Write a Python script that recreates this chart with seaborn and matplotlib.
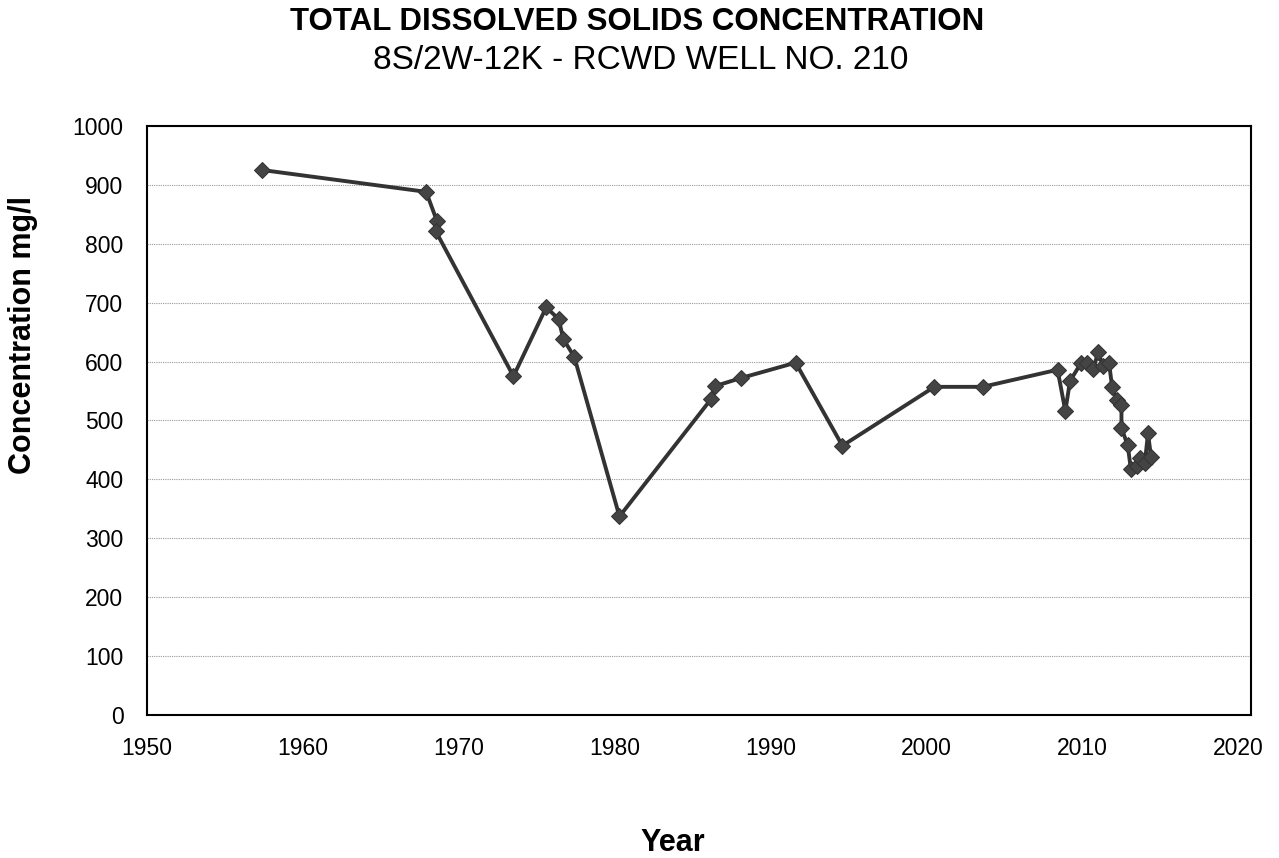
import numpy as np
import pandas as pd
import seaborn as sns
import matplotlib
matplotlib.use('Agg')
import matplotlib.pyplot as plt

# sample dates (decimal year) and TDS values
years = [1957.4, 1967.9, 1968.6, 1968.5, 1973.5, 1975.6, 1976.4, 1976.7, 1977.4,
         1980.3, 1986.2, 1986.4, 1988.1, 1991.6, 1994.6, 2000.5, 2003.6, 2008.4,
         2008.9, 2009.2, 2009.9, 2010.3, 2010.7, 2011.0, 2011.3, 2011.7, 2011.9,
         2012.2, 2012.5, 2012.5, 2012.9, 2013.1, 2013.5, 2013.7, 2014.0, 2014.2,
         2014.4]
tds = [925, 888, 838, 822, 575, 692, 672, 638, 608,
       337, 537, 558, 572, 598, 457, 557, 557, 586,
       516, 567, 597, 598, 587, 616, 593, 598, 557,
       535, 527, 487, 458, 418, 423, 437, 428, 478,
       438]

df = pd.DataFrame({'Year': years, 'TDS': tds})

sns.set_style('white')
plt.rcParams['font.family'] = ['Liberation Sans', 'DejaVu Sans']
plt.rcParams['text.color'] = 'black'
plt.rcParams['axes.labelcolor'] = 'black'

fig = plt.figure(figsize=(12.79, 8.58), dpi=100)
ax = fig.add_axes([0.115, 0.1667, 0.863, 0.6866])

sns.lineplot(data=df, x='Year', y='TDS', sort=False, estimator=None,
             color='#333333', linewidth=2.8, marker='D', markersize=8.5,
             markeredgecolor='#333333', markerfacecolor='#444444', ax=ax)

ax.set_xlim(1950, 2020.8)
ax.set_ylim(0, 1000)
ax.set_xticks(range(1950, 2021, 10))
ax.set_yticks(range(0, 1001, 100))
ax.yaxis.grid(True, linestyle=(0, (1, 1)), color='#999999', linewidth=0.8)
ax.xaxis.grid(False)
ax.set_axisbelow(True)

for s in ax.spines.values():
    s.set_color('black')
    s.set_linewidth(1.5)

ax.tick_params(axis='both', direction='inout', length=10, width=1.5,
               labelsize=16.5, colors='black')
ax.tick_params(axis='x', pad=11)
ax.tick_params(axis='y', pad=12)

ax.set_xlabel('')
ax.set_ylabel('Concentration mg/l', fontsize=22, fontweight='bold')
ax.yaxis.set_label_coords(-0.099, 0.645)

fig.text(0.526, 0.0175, 'Year', ha='center', va='center',
         fontsize=22, fontweight='bold')
fig.text(0.498, 0.974, 'TOTAL DISSOLVED SOLIDS CONCENTRATION', ha='center',
         va='center', fontsize=22.5, fontweight='bold')
fig.text(0.501, 0.930, '8S/2W-12K - RCWD WELL NO. 210', ha='center',
         va='center', fontsize=24)

plt.savefig('out.png', dpi=100)
